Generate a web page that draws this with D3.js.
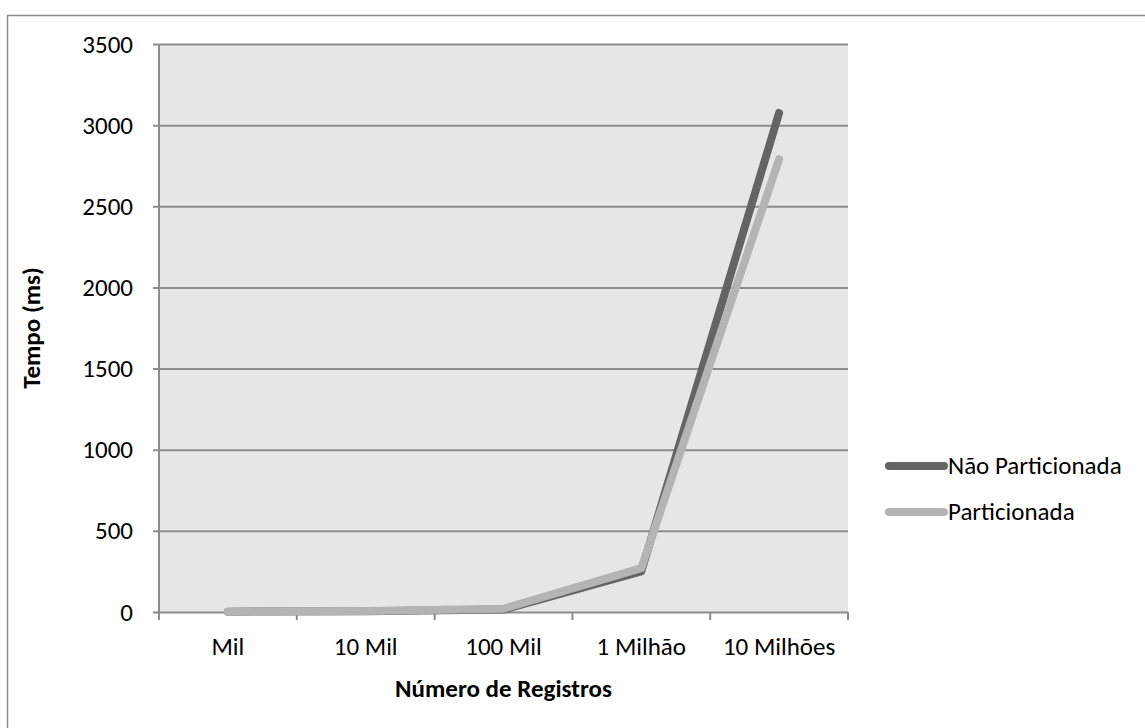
<!DOCTYPE html>
<html>
<head>
<meta charset="utf-8">
<script src="https://cdn.jsdelivr.net/npm/d3@7"></script>
<style>
  html, body { margin: 0; padding: 0; background: #fff; }
  svg { display: block; font-family: Carlito, Lato, "Open Sans", sans-serif; }
</style>
</head>
<body>
<svg id="chart" width="1145" height="728"></svg>
<script>
// Categories on the x axis (number of records)
const categories = ["Mil", "10 Mil", "100 Mil", "1 Milhão", "10 Milhões"];
// Query time in ms for each table layout
const naoParticionada = [2, 5, 15, 250, 3075];
const particionada = [2, 6, 20, 270, 2790];
const seriesNames = ["Não Particionada", "Particionada"];
const seriesColors = ["#646464", "#b4b4b4"];
const yTicks = [0, 500, 1000, 1500, 2000, 2500, 3000, 3500];

const FONT = "Carlito, Lato, 'Open Sans', sans-serif";
const FS = 25;

const svg = d3.select("#chart");

// Outer chart frame
svg.append("rect")
  .attr("x", 7.5).attr("y", 15.5)
  .attr("width", 1145).attr("height", 720)
  .attr("fill", "#fff").attr("stroke", "#8c8c8c").attr("stroke-width", 1.5);

const plot = { left: 159, right: 848, top: 44, bottom: 612 };

const x = d3.scaleBand().domain(categories).range([plot.left, plot.right]);
const y = d3.scaleLinear().domain([0, 3500]).range([plot.bottom, plot.top]);

// Plot background
svg.append("rect")
  .attr("x", plot.left).attr("y", plot.top)
  .attr("width", plot.right - plot.left).attr("height", plot.bottom - plot.top)
  .attr("fill", "#e6e6e6");

// Horizontal gridlines with left tick marks
const yAxis = d3.axisLeft(y).tickValues(yTicks).tickFormat(d3.format("d"))
  .tickSize(-(plot.right - plot.left)).tickPadding(26).tickSizeOuter(0);
const gy = svg.append("g").attr("transform", `translate(${plot.left},0)`).call(yAxis);
gy.select(".domain").remove();
gy.selectAll(".tick line").attr("stroke", "#8c8c8c").attr("stroke-width", 2)
  .attr("x1", -6);
gy.selectAll(".tick text").attr("font-size", FS).attr("fill", "#000")
  .attr("font-family", FONT);

// Left axis line
svg.append("line")
  .attr("x1", plot.left).attr("x2", plot.left)
  .attr("y1", plot.top).attr("y2", plot.bottom + 8)
  .attr("stroke", "#8c8c8c").attr("stroke-width", 2);

// Bottom axis: category boundaries as ticks
const boundaries = categories.map(c => x(c) + x.bandwidth());
svg.selectAll(".xtick").data(boundaries).join("line")
  .attr("class", "xtick")
  .attr("x1", d => d).attr("x2", d => d)
  .attr("y1", plot.bottom).attr("y2", plot.bottom + 8)
  .attr("stroke", "#8c8c8c").attr("stroke-width", 2);

svg.selectAll(".xlabel").data(categories).join("text")
  .attr("class", "xlabel")
  .attr("x", d => x(d) + x.bandwidth() / 2)
  .attr("y", plot.bottom + 43)
  .attr("text-anchor", "middle")
  .attr("font-size", FS)
  .text(d => d);

// Axis titles
svg.append("text")
  .attr("x", (plot.left + plot.right) / 2).attr("y", 697)
  .attr("text-anchor", "middle").attr("font-size", FS).attr("font-weight", "bold")
  .text("Número de Registros");

svg.append("text")
  .attr("transform", `translate(40,${(plot.top + plot.bottom) / 2}) rotate(-90)`)
  .attr("text-anchor", "middle").attr("font-size", FS).attr("font-weight", "bold")
  .text("Tempo (ms)");

// Series lines
const line = d3.line()
  .x((d, i) => x(categories[i]) + x.bandwidth() / 2)
  .y(d => y(d));

[naoParticionada, particionada].forEach((vals, i) => {
  svg.append("path")
    .datum(vals)
    .attr("d", line)
    .attr("fill", "none")
    .attr("stroke", seriesColors[i])
    .attr("stroke-width", 8)
    .attr("stroke-linecap", "round")
    .attr("stroke-linejoin", "round");
});

// Legend
const legend = svg.append("g");
seriesNames.forEach((name, i) => {
  const ly = 466 + i * 46;
  legend.append("line")
    .attr("x1", 889).attr("x2", 944)
    .attr("y1", ly).attr("y2", ly)
    .attr("stroke", seriesColors[i]).attr("stroke-width", 8)
    .attr("stroke-linecap", "round");
  legend.append("text")
    .attr("x", 948).attr("y", ly + 8)
    .attr("font-size", FS)
    .text(name);
});
</script>
</body>
</html>
